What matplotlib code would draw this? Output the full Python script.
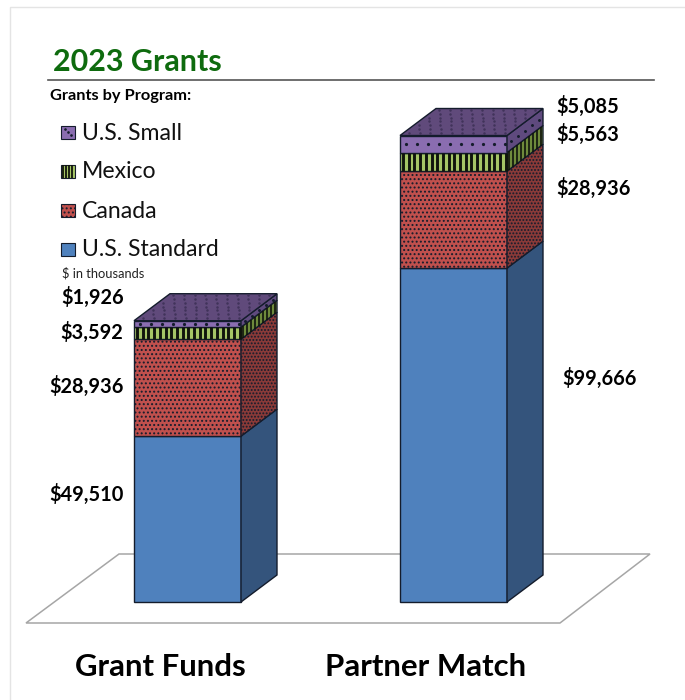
import matplotlib
matplotlib.use('Agg')
import matplotlib.pyplot as plt
import numpy as np
from matplotlib.patches import Polygon, Rectangle

# values in $ thousands, stacked bottom to top
categories = ['Grant Funds', 'Partner Match']
programs = ['U.S. Standard', 'Canada', 'Mexico', 'U.S. Small']
us_standard = [49510, 99666]
canada = [28936, 28936]
mexico = [3592, 5563]
us_small = [1926, 5085]
series = [us_standard, canada, mexico, us_small]

front_colors = ['#4F81BD', '#C0504D', '#A5C566', '#8A6DB0']
side_colors = ['#34547C', '#8A3A38', '#6E8A3C', '#5F4A7E']
top_color = '#604A7B'
front_hatch = [None, '....', None, None]
side_hatch = [None, '.....', None, None]
edge = '#141c2c'

plt.rcParams['font.family'] = ['Lato', 'DejaVu Sans']
plt.rcParams['hatch.linewidth'] = 0.9

fig = plt.figure(figsize=(6.85, 7), dpi=100)

# overlay in pixel coordinates for frame, floor and text
px = fig.add_axes([0, 0, 1, 1])
px.set_xlim(0, 685)
px.set_ylim(700, 0)
px.axis('off')

# frame and floor
px.plot([10.5, 10.5, 685], [700, 6.5, 6.5], color='#e4e4e4', lw=1)
px.add_patch(Polygon([(26, 623), (119, 554), (650, 554), (560, 623)], closed=True,
                     facecolor='white', edgecolor='#a6a6a6', lw=1.1))

# chart axes: y is thousands of dollars, base at pixel row 602
px_per_k = 3.35 / 1000
spacing = 266.0
ax = fig.add_axes([0, 0, 1, 1])
ax.patch.set_alpha(0)
ax.set_xlim(-187.5 / spacing, (685 - 187.5) / spacing)
ax.set_ylim(-(700 - 602) / px_per_k, 602 / px_per_k)
ax.axis('off')

width = 107 / spacing
dx = 36 / spacing
dy = 27 / px_per_k
xpx = 1 / spacing

bottoms = [0, 0]
for k, vals in enumerate(series):
    ax.bar(range(2), vals, width=width, bottom=bottoms, color=front_colors[k], edgecolor=edge,
           lw=1.0, hatch=front_hatch[k], zorder=3)
    for i, v in enumerate(vals):
        l = i - width / 2
        r = i + width / 2
        b = bottoms[i]
        ax.add_patch(Polygon([(r, b), (r + dx, b + dy), (r + dx, b + v + dy), (r, b + v)],
                             closed=True, facecolor=side_colors[k], edgecolor=edge, lw=1.0,
                             hatch=side_hatch[k], zorder=3))
        if programs[k] == 'Mexico':
            # thick dark stripes on the front and thinner ones along the side
            xs = np.arange(l + 3 * xpx, r, 5.7 * xpx)
            ax.vlines(xs, b, b + v, color='#10140c', lw=2.1, zorder=4)
            for f in np.arange(0.06, 1, 0.11):
                ax.vlines(r + f * dx, b + f * dy, b + v + f * dy, color='#10140c', lw=1.2, zorder=4)
        if programs[k] == 'U.S. Small':
            # sparse dots in the middle of the band
            xs = np.arange(l + 6 * xpx, r, 11 * xpx)
            ax.plot(xs, np.full(xs.shape, b + v / 2), ls='', marker='o', ms=1.3, color=edge, zorder=4)
            for f in np.arange(0.1, 1, 0.2):
                ax.plot(r + f * dx, b + v / 2 + f * dy, ls='', marker='o', ms=1.1, color=edge, zorder=4)
    bottoms = [b + v for b, v in zip(bottoms, vals)]

for i, t in enumerate(bottoms):
    l = i - width / 2
    r = i + width / 2
    ax.add_patch(Polygon([(l, t), (l + dx, t + dy), (r + dx, t + dy), (r, t)], closed=True,
                         facecolor=top_color, edgecolor=edge, lw=1.0, zorder=4))
    # dotted texture on the lid
    for row, f in enumerate(np.arange(0.1, 1, 0.14)):
        us = np.arange(0.05 + 0.05 * (row % 2), 1, 0.1)
        ax.plot(l + us * width + f * dx, np.full(us.shape, t + f * dy), ls='', marker='o', ms=0.8,
                color='#41335a', zorder=5)

# title block
px.text(53, 62, '2023 Grants', fontsize=22, fontweight='bold', color='#0E6B0E', va='center')
px.plot([48, 654], [79.5, 79.5], color='#555555', lw=1.2)
px.text(50, 96, 'Grants by Program:', fontsize=11.8, fontweight='bold', color='black', va='center')

# legend, top entry first
legend_y = [132, 171, 210, 249]
for y, i in zip(legend_y, [3, 2, 1, 0]):
    px.add_patch(Rectangle((61, y - 6.5), 14, 13, facecolor=front_colors[i], edgecolor=edge,
                           lw=0.8, hatch=front_hatch[i]))
    if programs[i] == 'Mexico':
        px.vlines(np.arange(63.5, 75, 3), y - 6.5, y + 6.5, color='#10140c', lw=1.3)
    if programs[i] == 'U.S. Small':
        px.plot([65, 71, 68], [y - 3, y + 3, y], ls='', marker='o', ms=0.9, color=edge)
    px.text(82, y + 1, programs[i], fontsize=16.6, color='#111111', va='center')
px.text(62, 273, '$ in thousands', fontsize=9.3, color='#222222', va='center')

# value labels
left_pos = [(124, 494), (124, 386), (123, 332), (124, 297)]
right_pos = [(562, 378), (556, 188), (556, 134), (556, 106)]
for k, vals in enumerate(series):
    x, y = left_pos[k]
    px.text(x, y, f'${vals[0]:,}', fontsize=14.4, fontweight='bold', ha='right', va='center')
    x, y = right_pos[k]
    px.text(x, y, f'${vals[1]:,}', fontsize=14.4, fontweight='bold', ha='left', va='center')

px.text(160, 667, categories[0], fontsize=22.4, fontweight='bold', ha='center', va='center')
px.text(426, 667, categories[1], fontsize=22.4, fontweight='bold', ha='center', va='center')

fig.savefig('out.png', dpi=100, facecolor='white')
